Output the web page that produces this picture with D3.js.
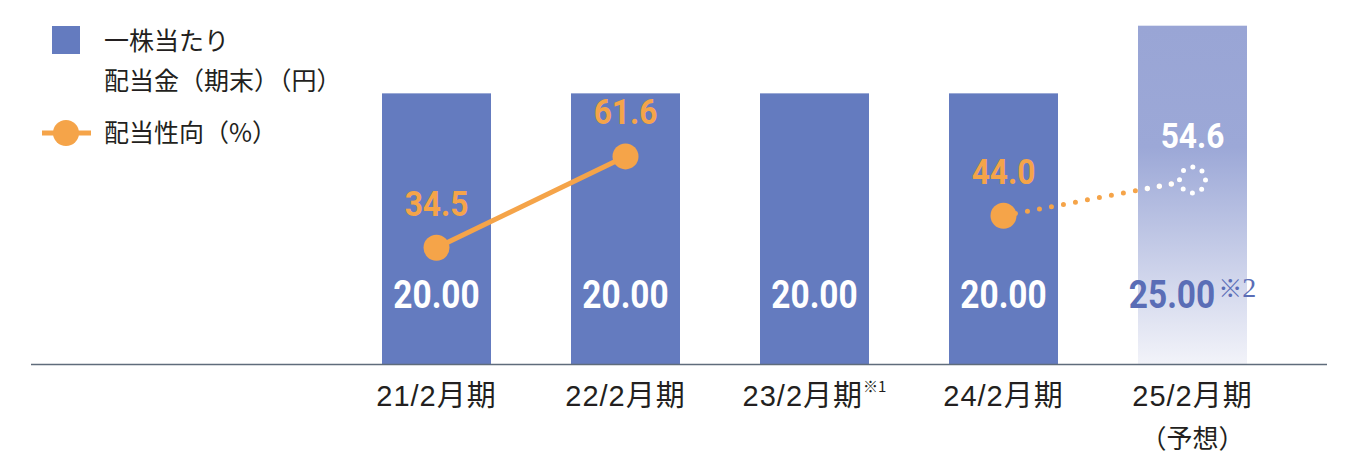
<!DOCTYPE html>
<html>
<head>
<meta charset="utf-8">
<script src="https://cdn.jsdelivr.net/npm/d3@7"></script>
<style>
  body { margin: 0; background: #fff; }
</style>
</head>
<body>
<div id="chart"></div>
<script>
// data
const categories = ['21/2月期', '22/2月期', '23/2月期', '24/2月期', '25/2月期'];
const categoryNotes = ['', '', '※1', '', ''];
const categorySub = ['', '', '', '', '（予想）'];
const dividend = [20, 20, 20, 20, 25];
const dividendNotes = ['', '', '', '', '※2'];
const payout = [34.5, 61.6, null, 44.0, 54.6];
const isForecast = [false, false, false, false, true];

const width = 1347;
const height = 456;
const baseY = 364;

const barColor = '#647bbf';
const orange = '#f5a449';
const textColor = '#231f20';
const numFont = 'Roboto, "Liberation Sans", sans-serif';
const jpFont = '"Liberation Sans", "Noto Sans CJK JP", sans-serif';
const squeeze = 0.88; // condensed look for the numbers

const svg = d3.select('#chart').append('svg')
  .attr('width', width)
  .attr('height', height);

const defs = svg.append('defs');
const grad = defs.append('linearGradient')
  .attr('id', 'forecastGrad')
  .attr('x1', 0).attr('y1', 0).attr('x2', 0).attr('y2', 1);
grad.append('stop').attr('offset', '0%').attr('stop-color', '#99a5d5');
grad.append('stop').attr('offset', '36%').attr('stop-color', '#9ca8d7');
grad.append('stop').attr('offset', '100%').attr('stop-color', '#f2f3f9');

// scales
const xScale = d3.scaleBand()
  .domain(categories)
  .range([342, 1287])
  .paddingInner(80 / 189)
  .paddingOuter(40 / 189);

const yBar = d3.scaleLinear()
  .domain([0, 25])
  .range([baseY, 25.7]);

const yPct = d3.scaleLinear()
  .domain([0, 100])
  .range([baseY, 27]);

const cx = (i) => xScale(categories[i]) + xScale.bandwidth() / 2;

// bars
svg.selectAll('rect.bar')
  .data(dividend)
  .enter()
  .append('rect')
  .attr('class', 'bar')
  .attr('x', (d, i) => xScale(categories[i]))
  .attr('y', (d) => yBar(d))
  .attr('width', xScale.bandwidth())
  .attr('height', (d) => baseY - yBar(d))
  .attr('fill', (d, i) => isForecast[i] ? 'url(#forecastGrad)' : barColor);

// base line
svg.append('line')
  .attr('x1', 31).attr('x2', 1327)
  .attr('y1', baseY + 0.5).attr('y2', baseY + 0.5)
  .attr('stroke', '#5f6c7b')
  .attr('stroke-width', 1.6);

// condensed number label, centred on x together with an optional note mark
function numLabel(x, y, str, size, color, note) {
  const g = svg.append('g');
  const t = g.append('text')
    .attr('font-family', numFont)
    .attr('font-weight', 'bold')
    .attr('font-size', size)
    .attr('fill', color)
    .text(str);
  const w = t.node().getComputedTextLength() * squeeze;
  let nw = 0, n = null;
  if (note) {
    n = g.append('text')
      .attr('fill', color);
    n.append('tspan')
      .attr('font-family', '"Noto Sans CJK JP", sans-serif')
      .attr('font-size', 24)
      .text(note.charAt(0));
    n.append('tspan')
      .attr('font-family', '"Liberation Serif", serif')
      .attr('font-size', 28)
      .text(note.slice(1));
    nw = n.node().getComputedTextLength() + 3;
  }
  const x0 = x - (w + nw) / 2;
  t.attr('transform', `translate(${x0},${y}) scale(${squeeze},1)`);
  if (n) n.attr('transform', `translate(${x0 + w + 3},${y - 11})`);
}

dividend.forEach((d, i) => {
  numLabel(cx(i), baseY - 56, d.toFixed(2), 38,
    isForecast[i] ? '#5a6db6' : '#fff', dividendNotes[i]);
});

// payout ratio line (actual)
const pts = payout.map((v, i) => ({ i, v, f: isForecast[i] }));
const actual = pts.filter(p => !p.f);

const line = d3.line()
  .defined(p => p.v != null)
  .x(p => cx(p.i))
  .y(p => yPct(p.v));

svg.append('path')
  .datum(actual)
  .attr('d', line)
  .attr('fill', 'none')
  .attr('stroke', orange)
  .attr('stroke-width', 5);

// dotted line to forecast
const lastActual = actual.filter(p => p.v != null).slice(-1)[0];
const fc = pts.filter(p => p.f && p.v != null)[0];
const r = 13;
const ax = cx(lastActual.i), ay = yPct(lastActual.v);
const fx = cx(fc.i), fy = yPct(fc.v);
const len = Math.hypot(fx - ax, fy - ay);
const ex = fx - (fx - ax) / len * (r + 2);
const ey = fy - (fy - ay) / len * (r + 2);

const fcBarX = xScale(categories[fc.i]);
defs.append('clipPath').attr('id', 'fcClip')
  .append('rect')
  .attr('x', fcBarX).attr('y', 0)
  .attr('width', xScale.bandwidth()).attr('height', baseY);

svg.append('line')
  .attr('x1', ax).attr('y1', ay).attr('x2', ex).attr('y2', ey)
  .attr('stroke', orange)
  .attr('stroke-width', 5)
  .attr('stroke-linecap', 'round')
  .attr('stroke-dasharray', '0 12.2');
svg.append('line')
  .attr('clip-path', 'url(#fcClip)')
  .attr('x1', ax).attr('y1', ay).attr('x2', ex).attr('y2', ey)
  .attr('stroke', '#fff')
  .attr('stroke-width', 5.4)
  .attr('stroke-linecap', 'round')
  .attr('stroke-dasharray', '0 12.2');

// markers
svg.selectAll('circle.pt')
  .data(actual.filter(p => p.v != null))
  .enter()
  .append('circle')
  .attr('class', 'pt')
  .attr('cx', p => cx(p.i))
  .attr('cy', p => yPct(p.v))
  .attr('r', r)
  .attr('fill', orange);

svg.append('circle')
  .attr('cx', fx).attr('cy', fy)
  .attr('r', r)
  .attr('fill', 'none')
  .attr('stroke', '#fff')
  .attr('stroke-width', 5)
  .attr('stroke-linecap', 'round')
  .attr('stroke-dasharray', '0 10.2');

// payout labels
pts.filter(p => p.v != null).forEach(p => {
  numLabel(cx(p.i), yPct(p.v) - 32, p.v.toFixed(1), 36, p.f ? '#fff' : orange, '');
});

// x axis labels
const xAxis = svg.append('g')
  .attr('transform', `translate(0, ${baseY})`)
  .call(d3.axisBottom(xScale).tickSize(0).tickPadding(0));
xAxis.select('.domain').remove();
xAxis.selectAll('.tick text').remove();
xAxis.selectAll('.tick').each(function (d, i) {
  const t = d3.select(this).append('text')
    .attr('y', 42)
    .attr('text-anchor', 'middle')
    .attr('font-family', jpFont)
    .attr('font-size', 29)
    .attr('fill', textColor);
  t.append('tspan').attr('letter-spacing', 1).text(d);
  if (categoryNotes[i]) {
    t.append('tspan')
      .attr('font-family', '"Noto Sans CJK JP", sans-serif')
      .attr('font-size', 15)
      .attr('dy', -14)
      .text(categoryNotes[i]);
  }
  if (categorySub[i]) {
    d3.select(this).append('text')
      .attr('y', 84)
      .attr('text-anchor', 'middle')
      .attr('font-family', '"Noto Sans CJK JP", sans-serif')
      .attr('font-size', 26)
      .attr('fill', textColor)
      .text(categorySub[i]);
  }
});

// legend
const legend = svg.append('g').attr('font-family', '"Noto Sans CJK JP", sans-serif')
  .attr('font-size', 25).attr('fill', textColor);
legend.append('rect')
  .attr('x', 52).attr('y', 26).attr('width', 28).attr('height', 28)
  .attr('fill', barColor);
legend.append('text').attr('x', 104).attr('y', 50).text('一株当たり');
legend.append('text').attr('x', 104).attr('y', 90).text('配当金（期末）（円）');
legend.append('line')
  .attr('x1', 42).attr('x2', 91).attr('y1', 133).attr('y2', 133)
  .attr('stroke', orange).attr('stroke-width', 5);
legend.append('circle')
  .attr('cx', 66).attr('cy', 133).attr('r', 13).attr('fill', orange);
legend.append('text').attr('x', 104).attr('y', 142).text('配当性向（%）');
</script>
</body>
</html>
